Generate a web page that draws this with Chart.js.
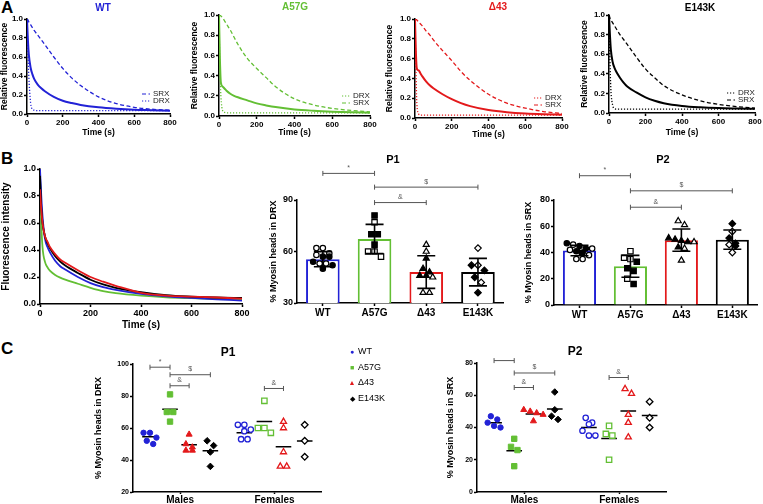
<!DOCTYPE html>
<html lang="en">
<head>
<meta charset="UTF-8" />
<title>SRX / DRX myosin heads</title>
<script src="https://cdn.jsdelivr.net/npm/chart.js"></script>
<style>
  html, body { margin: 0; padding: 0; background: #fff; overflow: hidden; }
  #fig { position: relative; width: 763px; height: 504px; font-family: "Liberation Sans", Arial, sans-serif; }
  .lbl { position: absolute; font-weight: bold; white-space: nowrap; transform: translate(-50%, -50%); line-height: 1; }
  .panel { position: absolute; font-weight: bold; font-size: 17px; line-height: 1; }
  #legendC { position: absolute; left: 348px; top: 344px; font-size: 9px; line-height: 14.6px; }
  #legendC .m { display: inline-block; width: 8px; text-align: center; margin-right: 2px; font-size: 7px; }
</style>
</head>
<body>
<div id="fig">
  <div class="panel" style="left:1px;top:-1px">A</div>
  <div class="panel" style="left:1px;top:150px">B</div>
  <div class="panel" style="left:1px;top:340px">C</div>
</div>
<script>
  // ---- data ----
  const genotypes = ['WT', 'A57G', 'Δ43', 'E143K'];
  const sexes = ['Males', 'Females'];
  const colors = ['#2222d6', '#63bf34', '#e3191b', '#000000'];

  // A: single-mant-ATP chase, fit and its two components
  const time = [0, 5, 10, 20, 30, 40, 60, 80, 100, 150, 200, 250, 300, 400, 500, 600, 700, 800];
  const wtTotal    = [1.0, 0.78, 0.63, 0.49, 0.42, 0.37, 0.31, 0.27, 0.24, 0.18, 0.14, 0.115, 0.095, 0.07, 0.055, 0.045, 0.04, 0.035];
  const wtSrx      = [1.0, 0.99, 0.97, 0.94, 0.91, 0.88, 0.83, 0.78, 0.73, 0.6, 0.48, 0.38, 0.3, 0.18, 0.11, 0.07, 0.05, 0.04];
  const wtDrx      = [0.95, 0.65, 0.4, 0.12, 0.05, 0.04, 0.035, 0.035, 0.035, 0.035, 0.035, 0.035, 0.035, 0.035, 0.035, 0.035, 0.035, 0.035];
  const a57gTotal  = [1.0, 0.55, 0.33, 0.29, 0.27, 0.25, 0.22, 0.2, 0.185, 0.155, 0.125, 0.105, 0.088, 0.065, 0.052, 0.043, 0.037, 0.033];
  const a57gSrx    = [1.0, 1.0, 0.99, 0.97, 0.94, 0.91, 0.85, 0.78, 0.71, 0.57, 0.47, 0.38, 0.29, 0.17, 0.11, 0.075, 0.055, 0.04];
  const a57gDrx    = [0.95, 0.45, 0.2, 0.05, 0.035, 0.03, 0.03, 0.03, 0.03, 0.03, 0.03, 0.03, 0.03, 0.03, 0.03, 0.03, 0.03, 0.03];
  const d43Total   = [1.0, 0.65, 0.5, 0.48, 0.45, 0.42, 0.37, 0.33, 0.3, 0.24, 0.19, 0.15, 0.12, 0.08, 0.058, 0.045, 0.038, 0.034];
  const d43Srx     = [1.0, 1.0, 0.99, 0.97, 0.95, 0.93, 0.88, 0.84, 0.79, 0.68, 0.58, 0.47, 0.38, 0.24, 0.15, 0.1, 0.065, 0.045];
  const d43Drx     = [0.95, 0.5, 0.15, 0.04, 0.03, 0.03, 0.03, 0.03, 0.03, 0.03, 0.03, 0.03, 0.03, 0.03, 0.03, 0.03, 0.03, 0.03];
  const e143kTotal = [1.0, 0.8, 0.65, 0.52, 0.46, 0.42, 0.36, 0.31, 0.27, 0.21, 0.16, 0.125, 0.1, 0.072, 0.058, 0.05, 0.046, 0.043];
  const e143kSrx   = [1.0, 0.97, 0.95, 0.92, 0.89, 0.86, 0.8, 0.75, 0.7, 0.57, 0.45, 0.36, 0.28, 0.185, 0.125, 0.088, 0.065, 0.05];
  const e143kDrx   = [0.95, 0.55, 0.25, 0.08, 0.045, 0.04, 0.04, 0.04, 0.04, 0.04, 0.04, 0.04, 0.04, 0.04, 0.04, 0.04, 0.04, 0.04];

  // B: averaged decays
  const bWt    = [1.0, 0.8, 0.65, 0.48, 0.42, 0.38, 0.32, 0.28, 0.255, 0.2, 0.155, 0.125, 0.105, 0.075, 0.057, 0.045, 0.035, 0.025];
  const bA57g  = [0.95, 0.6, 0.42, 0.31, 0.27, 0.245, 0.215, 0.195, 0.18, 0.15, 0.12, 0.095, 0.08, 0.062, 0.05, 0.043, 0.037, 0.033];
  const bD43   = [0.85, 0.7, 0.6, 0.5, 0.46, 0.42, 0.37, 0.33, 0.305, 0.25, 0.2, 0.165, 0.135, 0.083, 0.062, 0.055, 0.048, 0.04];
  const bE143k = [0.95, 0.72, 0.6, 0.5, 0.45, 0.41, 0.355, 0.315, 0.285, 0.23, 0.18, 0.145, 0.12, 0.088, 0.066, 0.055, 0.048, 0.045];

  // B bars (mean, SD)
  const p1Mean = [55.5, 67.3, 48, 48];
  const p1Sd   = [4.4, 8.5, 9.5, 8];
  const p2Mean = [41.5, 29.5, 49.4, 49.8];
  const p2Sd   = [4, 8.3, 8.5, 7.3];

  // per-animal values, by sex (males filled, females open)
  const p1Males   = [[57, 57, 54, 52, 50], [81, 70, 70, 64], [56, 50, 48, 46, 46], [52, 49, 45, 36]];
  const p1Females = [[62, 62, 59, 58, 53, 53], [77, 60, 60, 57], [64, 60, 45, 36, 36], [62, 52, 42]];
  const p2Males   = [[47, 45, 43, 41, 40], [33, 28, 26, 16], [51, 50, 49, 48, 44], [62, 51, 47, 45]];
  const p2Females = [[46, 43, 42, 38, 35, 35], [41, 36, 35, 20], [64, 61, 48, 43, 34], [56, 46, 40]];

  // C: group means
  const p1MeanMales   = [54.6, 71.7, 49.5, 45.8];
  const p1MeanFemales = [57, 64, 48.3, 51.8];
  const p2MeanMales   = [43, 25.6, 48.4, 51.5];
  const p2MeanFemales = [40, 33.2, 50.3, 47.4];

  // significance brackets (genotype a vs b, level in axis units)
  const bP1Sig = [{a: 0, b: 1, y: 105.5, t: '*'}, {a: 1, b: 3, y: 97.5, t: '$'}, {a: 1, b: 2, y: 88.5, t: '&'}];
  const bP2Sig = [{a: 0, b: 1, y: 98.5, t: '*'}, {a: 1, b: 3, y: 87, t: '$'}, {a: 1, b: 2, y: 74.5, t: '&'}];
  const cP1Sig = [{g: 0, a: 0, b: 1, y: 98, t: '*'}, {g: 0, a: 1, b: 3, y: 93.3, t: '$'}, {g: 0, a: 1, b: 2, y: 86.4, t: '&'}, {g: 1, a: 1, b: 2, y: 84.7, t: '&'}];
  const cP2Sig = [{g: 0, a: 0, b: 1, y: 81.5, t: '*'}, {g: 0, a: 1, b: 3, y: 73.8, t: '$'}, {g: 0, a: 1, b: 2, y: 64.8, t: '&'}, {g: 1, a: 1, b: 2, y: 71, t: '&'}];

  // ---- drawing ----
  const fig = document.getElementById('fig');
  const FONT = '"Liberation Sans", Arial, Helvetica, sans-serif';
  Chart.defaults.font.family = FONT;
  Chart.defaults.color = '#000';

  const shapes = ['circle', 'rect', 'triangle', 'rectRot'];
  const radii = [2.7, 3.8, 3.5, 3.3];
  const glyphs = ['●', '■', '▲', '◆'];
  const groupCenters = [2, 6];
  const slotOffsets = [-1.28, -0.43, 0.38, 1.28];

  function font(size, weight) { return {family: FONT, size: size, weight: weight || 'bold'}; }

  function axis(o) {
    const a = {
      type: o.type || 'linear',
      offset: false,
      border: {display: true, color: '#000', width: 1.5},
      grid: {display: true, drawOnChartArea: false, drawTicks: true, offset: false,
             tickLength: o.tl || 3, tickWidth: 1.5, tickColor: '#000'},
      ticks: Object.assign({color: '#000', font: font(o.fs || 8), padding: o.pad === undefined ? 1 : o.pad,
                            maxRotation: 0, autoSkip: false}, o.ticks || {}),
      title: o.title ? {display: true, text: o.title, color: '#000', font: font(o.tfs || 8.5), padding: 0}
                     : {display: false}
    };
    ['min', 'max', 'afterBuildTicks'].forEach(k => { if (o[k] !== undefined) a[k] = o[k]; });
    return a;
  }

  // canvas sized so that the plot area lands exactly on `area` (page px)
  function makeChart(area, m, config) {
    const c = document.createElement('canvas');
    const w = area[2] - area[0] + m[0] + m[2], h = area[3] - area[1] + m[1] + m[3];
    c.width = w; c.height = h;
    c.style.cssText = `position:absolute;left:${area[0] - m[0]}px;top:${area[1] - m[1]}px;width:${w}px;height:${h}px;`;
    fig.appendChild(c);
    const o = config.options;
    o.responsive = false; o.animation = false; o.maintainAspectRatio = false;
    o.layout = {padding: {left: 0, top: m[1], right: m[2], bottom: 0}};
    o.scales.x.afterFit = s => { s.height = m[3]; };
    o.scales.y.afterFit = s => { s.width = m[0]; };
    o.plugins = Object.assign({legend: {display: false}, tooltip: {enabled: false}}, o.plugins || {});
    return new Chart(c, config);
  }

  function label(text, x, y, size, color) {
    const d = document.createElement('div');
    d.className = 'lbl';
    d.textContent = text;
    d.style.left = x + 'px'; d.style.top = y + 'px';
    d.style.fontSize = size + 'px'; d.style.color = color || '#000';
    fig.appendChild(d);
  }

  const pts = arr => arr.map((v, i) => ({x: time[i], y: v}));

  // spread points of one group into centred rows, like a dot plot
  function swarm(vals, pxX, pxY, d) {
    const idx = vals.map((v, i) => i).sort((a, b) => vals[b] - vals[a]);
    const off = vals.map(() => 0);
    let row = [];
    const flush = () => {
      row.forEach((i, k) => { off[i] = (k - (row.length - 1) / 2) * d / pxX; });
      row = [];
    };
    idx.forEach(i => {
      if (row.length && (vals[row[0]] - vals[i]) * pxY >= d * 0.85) flush();
      row.push(i);
    });
    flush();
    return off;
  }

  const cornerLegend = {
    id: 'cornerLegend',
    afterDatasetsDraw(chart) {
      const {ctx, chartArea: a} = chart;
      const items = chart.data.datasets.filter(d => d.label);
      ctx.save();
      ctx.font = '8px ' + FONT;
      ctx.textBaseline = 'middle';
      items.forEach((d, i) => {
        const y = a.bottom - 20 + i * 7, x = a.right - 28;
        ctx.strokeStyle = d.borderColor; ctx.lineWidth = 1.2;
        ctx.setLineDash(d.borderDash || []);
        ctx.beginPath(); ctx.moveTo(x, y); ctx.lineTo(x + 8, y); ctx.stroke();
        ctx.setLineDash([]);
        ctx.fillStyle = '#222';
        ctx.fillText(d.label, x + 11, y);
      });
      ctx.restore();
    }
  };

  const sigPlugin = {
    id: 'sig',
    afterDatasetsDraw(chart, args, o) {
      const {ctx} = chart;
      const xs = chart.scales.x, ys = chart.scales.y;
      ctx.save();
      ctx.strokeStyle = '#555'; ctx.fillStyle = '#555'; ctx.lineWidth = 1;
      ctx.font = '7px ' + FONT; ctx.textAlign = 'center'; ctx.textBaseline = 'bottom';
      o.items.forEach(it => {
        const x1 = xs.getPixelForValue(it.x1), x2 = xs.getPixelForValue(it.x2), py = ys.getPixelForValue(it.y);
        ctx.beginPath();
        ctx.moveTo(x1, py); ctx.lineTo(x2, py);
        ctx.moveTo(x1, py - 2.5); ctx.lineTo(x1, py + 2.5);
        ctx.moveTo(x2, py - 2.5); ctx.lineTo(x2, py + 2.5);
        ctx.stroke();
        ctx.fillText(it.t, (x1 + x2) / 2, py - 2);
      });
      ctx.restore();
    }
  };

  const errorBars = {
    id: 'errorBars',
    afterDatasetsDraw(chart, args, o) {
      const {ctx} = chart;
      const x = chart.scales.x, y = chart.scales.y;
      ctx.save();
      ctx.strokeStyle = '#000'; ctx.lineWidth = 1.6;
      o.mean.forEach((m, i) => {
        const px = x.getPixelForValue(i);
        const top = y.getPixelForValue(m + o.sd[i]), bot = y.getPixelForValue(m - o.sd[i]);
        ctx.beginPath();
        ctx.moveTo(px, top); ctx.lineTo(px, bot);
        ctx.moveTo(px - 9, top); ctx.lineTo(px + 9, top);
        ctx.moveTo(px - 9, bot); ctx.lineTo(px + 9, bot);
        ctx.stroke();
      });
      ctx.restore();
    }
  };

  // ---- A ----
  const aAreas = [[27, 19, 170, 114], [219, 15, 370, 116], [415, 19, 562, 118], [609, 15, 755, 113]];
  const aMargins = [[27, 8, 12, 24], [29, 8, 12, 22], [30, 8, 12, 22], [29, 8, 10, 25]];
  const aTitles = [[103, 8], [295, 7], [498, 7], [700, 8]];
  const aSeries = [[wtTotal, wtSrx, wtDrx], [a57gTotal, a57gSrx, a57gDrx],
                   [d43Total, d43Srx, d43Drx], [e143kTotal, e143kSrx, e143kDrx]];

  genotypes.forEach((g, k) => {
    const [tot, srx, drx] = aSeries[k];
    const col = colors[k];
    const srxDs = {label: 'SRX', data: pts(srx), borderColor: col, borderWidth: 1.3, borderDash: [4, 2.5]};
    const drxDs = {label: 'DRX', data: pts(drx), borderColor: col, borderWidth: 1.3, borderDash: [1.2, 1.8]};
    makeChart(aAreas[k], aMargins[k], {
      type: 'line',
      data: {datasets: [{data: pts(tot), borderColor: col, borderWidth: 2}].concat(k === 0 ? [srxDs, drxDs] : [drxDs, srxDs])},
      options: {
        elements: {point: {radius: 0}, line: {cubicInterpolationMode: 'monotone'}},
        scales: {
          x: axis({min: 0, max: 800, ticks: {stepSize: 200}, title: 'Time (s)'}),
          y: axis({min: 0, max: 1, ticks: {stepSize: 0.2, callback: v => v.toFixed(1)}, title: 'Relative fluorescence'})
        }
      },
      plugins: [cornerLegend]
    });
    label(g, aTitles[k][0], aTitles[k][1], 10, col);
  });

  // ---- B: decays ----
  const bCurves = [bWt, bA57g, bD43, bE143k];
  const bOrder = [3, 4, 1, 2];
  makeChart([40, 169, 242, 304], [40, 8, 10, 27], {
    type: 'line',
    data: {datasets: bCurves.map((arr, k) => ({data: pts(arr), borderColor: colors[k], borderWidth: 1.8, order: bOrder[k]}))},
    options: {
      elements: {point: {radius: 0}, line: {cubicInterpolationMode: 'monotone'}},
      scales: {
        x: axis({min: 0, max: 800, fs: 9, ticks: {stepSize: 200}, title: 'Time (s)', tfs: 10}),
        y: axis({min: 0, max: 1, fs: 9, ticks: {stepSize: 0.2, callback: v => v.toFixed(1)}, title: 'Fluorescence intensity', tfs: 10})
      }
    }
  });

  // ---- B: bars with individual animals (one linear x axis, genotype k at x = k) ----
  function barChart(area, m, mean, sd, males, females, yMin, yMax, step, yTitle, sig) {
    const pxX = (area[2] - area[0]) / 4, pxY = (area[3] - area[1]) / (yMax - yMin);
    const datasets = [{type: 'bar', data: mean.map((v, k) => ({x: k, y: v})), backgroundColor: '#fff', borderColor: colors,
                       borderWidth: 2, barPercentage: 0.65, categoryPercentage: 1, order: 2}];
    genotypes.forEach((g, k) => {
      const vals = males[k].concat(females[k]);
      const off = swarm(vals, pxX, pxY, 6.5);
      const part = (from, to, filled) => ({
        type: 'scatter', order: 1,
        data: vals.slice(from, to).map((v, j) => ({x: k + off[from + j], y: v})),
        pointStyle: shapes[k], pointRadius: radii[k], borderWidth: 1.2,
        backgroundColor: filled ? '#000' : '#fff', borderColor: '#000'
      });
      datasets.push(part(0, males[k].length, true), part(males[k].length, vals.length, false));
    });
    makeChart(area, m, {
      type: 'bar',
      data: {datasets: datasets},
      options: {
        scales: {
          x: axis({min: -0.5, max: 3.5, fs: 10, pad: 1,
                   afterBuildTicks: s => { s.ticks = genotypes.map((g, i) => ({value: i})); },
                   ticks: {callback: (v, i) => genotypes[i]}}),
          y: axis({min: yMin, max: yMax, fs: 9, ticks: {stepSize: step}, title: yTitle, tfs: 9})
        },
        plugins: {
          errorBars: {mean: mean, sd: sd},
          sig: {items: sig.map(s => ({x1: s.a, x2: s.b, y: s.y, t: s.t}))}
        }
      },
      plugins: [errorBars, sigPlugin]
    });
  }
  barChart([297, 200, 505, 303], [29, 42, 4, 16], p1Mean, p1Sd, p1Males, p1Females, 30, 90, 30, '% Myosin heads in DRX', bP1Sig);
  barChart([554, 200, 763, 305], [31, 42, 0, 16], p2Mean, p2Sd, p2Males, p2Females, 0, 80, 20, '% Myosin heads in SRX', bP2Sig);
  label('P1', 393, 159, 11);
  label('P2', 663, 159, 11);

  // ---- C: by sex ----
  function sexChart(area, m, males, females, meanM, meanF, yMin, yMax, yTitle, sig) {
    const pxX = (area[2] - area[0]) / 8, pxY = (area[3] - area[1]) / (yMax - yMin);
    const datasets = [];
    const meanPts = [];
    [males, females].forEach((grp, g) => {
      grp.forEach((vals, k) => {
        const base = groupCenters[g] + slotOffsets[k];
        const off = swarm(vals, pxX, pxY, 6.5);
        datasets.push({
          type: 'scatter',
          data: vals.map((v, j) => ({x: base + off[j], y: v})),
          pointStyle: shapes[k], pointRadius: radii[k], borderWidth: g === 0 ? 1 : 1.3,
          backgroundColor: g === 0 ? colors[k] : '#fff', borderColor: colors[k]
        });
        const mv = (g === 0 ? meanM : meanF)[k];
        meanPts.push({x: base - 0.33, y: mv}, {x: base + 0.33, y: mv}, {x: base, y: null});
      });
    });
    datasets.push({type: 'line', data: meanPts, borderColor: '#000', borderWidth: 1.5, pointRadius: 0, spanGaps: false});
    makeChart(area, m, {
      type: 'scatter',
      data: {datasets: datasets},
      options: {
        scales: {
          x: axis({min: 0, max: 8, fs: 10, tl: 2, pad: 0,
                   afterBuildTicks: s => { s.ticks = groupCenters.map(v => ({value: v})); },
                   ticks: {callback: (v, i) => sexes[i]}}),
          y: axis({min: yMin, max: yMax, fs: 7, ticks: {stepSize: 20}, title: yTitle, tfs: 9})
        },
        plugins: {
          sig: {items: sig.map(s => ({x1: groupCenters[s.g] + slotOffsets[s.a], x2: groupCenters[s.g] + slotOffsets[s.b], y: s.y, t: s.t}))}
        }
      },
      plugins: [sigPlugin]
    });
  }
  sexChart([133, 364, 323, 492], [40, 8, 4, 12], p1Males, p1Females, p1MeanMales, p1MeanFemales, 20, 100, '% Myosin heads in DRX', cP1Sig);
  sexChart([477, 363, 668, 492], [32, 8, 4, 12], p2Males, p2Females, p2MeanMales, p2MeanFemales, 0, 80, '% Myosin heads in SRX', cP2Sig);
  label('P1', 228, 352, 12);
  label('P2', 575, 351, 12);

  // shared legend for C
  const leg = document.createElement('div');
  leg.id = 'legendC';
  genotypes.forEach((g, k) => {
    const row = document.createElement('div');
    row.innerHTML = `<span class="m" style="color:${colors[k]}">${glyphs[k]}</span>`;
    row.appendChild(document.createTextNode(g));
    leg.appendChild(row);
  });
  fig.appendChild(leg);
</script>
</body>
</html>
